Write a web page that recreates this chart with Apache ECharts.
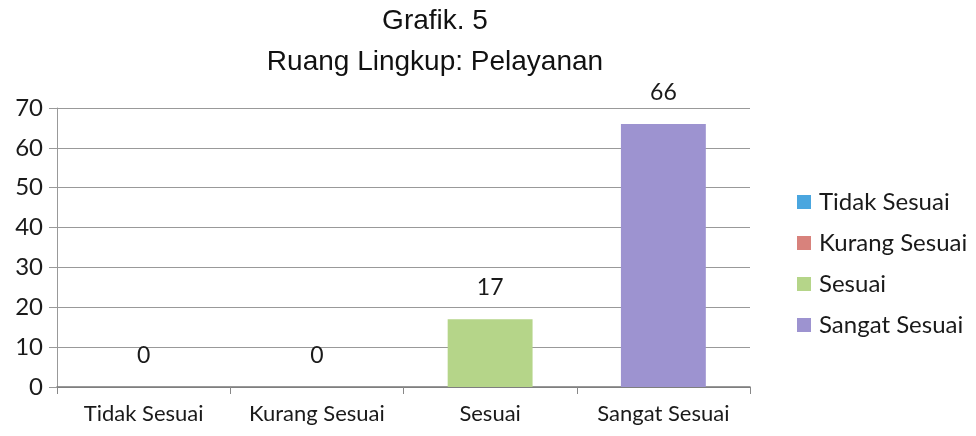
<!DOCTYPE html>
<html>
<head>
<meta charset="utf-8">
<script src="https://cdn.jsdelivr.net/npm/echarts@6/dist/echarts.min.js"></script>
<style>
  html, body { margin: 0; padding: 0; background: #fff; }
  #chart { width: 976px; height: 436px; }
</style>
</head>
<body>
<div id="chart"></div>
<script>
// data
var categories = ['Tidak Sesuai', 'Kurang Sesuai', 'Sesuai', 'Sangat Sesuai'];
var values = [0, 0, 17, 66];
var colors = ['#4aa6df', '#d8827c', '#b5d589', '#9d93d0'];
var yTicks = [0, 10, 20, 30, 40, 50, 60, 70];

var chart = echarts.init(document.getElementById('chart'));

// one series per category so the legend lists them, all on one stack
var series = categories.map(function (name, i) {
  var data = categories.map(function (c, j) { return j === i ? values[i] : '-'; });
  return {
    name: name,
    type: 'bar',
    stack: 'total',
    barWidth: '49%',
    data: data,
    itemStyle: { color: colors[i] },
    label: {
      show: true,
      position: 'top',
      distance: 20,
      fontFamily: 'Lato',
      fontSize: 23,
      color: '#1a1a1a'
    }
  };
});

var option = {
  backgroundColor: '#fff',
  animation: false,
  title: {
    text: 'Grafik. 5\nRuang Lingkup: Pelayanan',
    left: 430,
    textAlign: 'center',
    top: -4,
    textStyle: {
      fontFamily: 'Liberation Sans',
      fontWeight: 'normal',
      fontSize: 28,
      lineHeight: 41,
      color: '#111'
    }
  },
  legend: {
    orient: 'vertical',
    left: 792,
    top: 185,
    itemWidth: 14,
    itemHeight: 14,
    itemGap: 17,
    icon: 'rect',
    data: categories,
    textStyle: { fontFamily: 'Lato', fontSize: 24, color: '#1a1a1a', padding: [0, 0, 0, 3] }
  },
  grid: { left: 57, right: 226, top: 108, bottom: 49 },
  xAxis: {
    type: 'category',
    data: categories,
    axisLine: { lineStyle: { color: '#777', width: 1.5 } },
    axisTick: { show: true, length: 7, lineStyle: { color: '#888' } },
    axisLabel: { interval: 0, fontFamily: 'Lato', fontSize: 22, color: '#1a1a1a', margin: 16 }
  },
  yAxis: {
    type: 'value',
    min: yTicks[0],
    max: yTicks[yTicks.length - 1],
    interval: 10,
    axisLine: { show: true, lineStyle: { color: '#999' } },
    axisTick: { show: true, length: 8, lineStyle: { color: '#999' } },
    splitLine: { lineStyle: { color: '#999', width: 1.2 } },
    axisLabel: { fontFamily: 'Lato', fontSize: 24, color: '#1a1a1a', margin: 14 }
  },
  series: series
};

chart.setOption(option);
</script>
</body>
</html>
